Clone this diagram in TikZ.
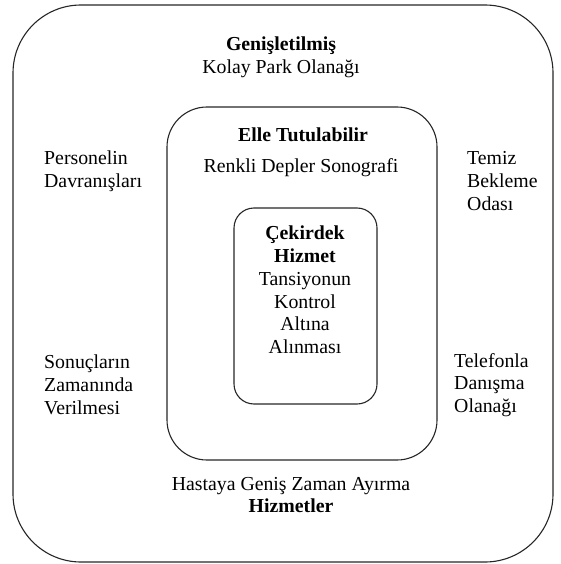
\documentclass[tikz,border=0pt]{standalone}
\usepackage{fontspec}
\setmainfont{Liberation Serif}
\begin{document}
\begin{tikzpicture}[x=1pt,y=-1pt,
  layer/.style={draw=black!85,line width=1.1pt,inner sep=0pt},
  label/.style={inner sep=0pt,font=\fontsize{19.8}{22.8}\selectfont},
  leftlabel/.style={label,align=left,anchor=west},
  midlabel/.style={label,align=center}]
\useasboundingbox (0,0) rectangle (560,564);
% nested service layers
\node[layer,rounded corners=68pt,minimum width=540pt,minimum height=557pt] (outer) at (283,283.5) {};
\node[layer,rounded corners=40pt,minimum width=270pt,minimum height=353pt] (middle) at (302,283.5) {};
\node[layer,rounded corners=20pt,minimum width=143pt,minimum height=196pt] (core) at (305.5,306) {};
% augmented layer
\node[midlabel] (ext) at (281,57) {\textbf{Genişletilmiş}\\Kolay Park Olanağı};
\node[leftlabel] (staff) at (44,171) {Personelin\\Davranışları};
\node[leftlabel] (wait) at (467,181) {Temiz\\Bekleme\\Odası};
\node[leftlabel] (results) at (44,385) {Sonuçların\\Zamanında\\Verilmesi};
\node[leftlabel] (phone) at (454,385) {Telefonla\\Danışma\\Olanağı};
\node[midlabel] (time) at (291,495) {Hastaya Geniş Zaman Ayırma\\\textbf{Hizmetler}};
% tangible layer
\node[midlabel] (tang) at (303,135) {\textbf{Elle Tutulabilir}};
\node[midlabel] (sono) at (301,168) {Renkli Depler Sonografi};
% core service
\node[midlabel] (corelbl) at (305,290) {\textbf{Çekirdek}\\\textbf{Hizmet}\\Tansiyonun\\Kontrol\\Altına\\Alınması};
\end{tikzpicture}
\end{document}
